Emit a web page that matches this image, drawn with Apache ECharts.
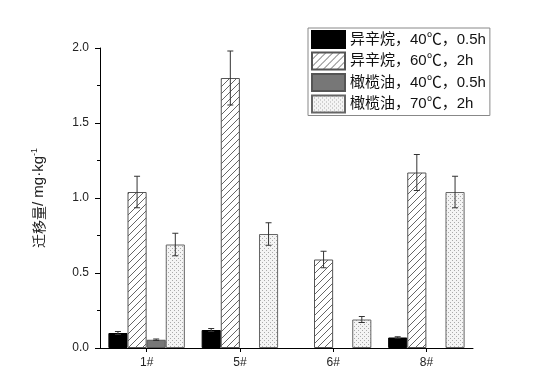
<!DOCTYPE html>
<html><head><meta charset="utf-8">
<script src="https://cdn.jsdelivr.net/npm/echarts@6/dist/echarts.min.js"></script>
<style>html,body{margin:0;padding:0;background:#fff}#c{width:550px;height:389px}</style>
</head><body><div id="c"></div>
<script>
const categories = ['1#', '5#', '6#', '8#'];
const seriesNames = ['异辛烷，40℃，0.5h', '异辛烷，60℃，2h', '橄榄油，40℃，0.5h', '橄榄油，70℃，2h'];
const isooctane40 = [0.10, 0.12, 0, 0.07];
const isooctane40Err = [0.01, 0.01, 0, 0.005];
const isooctane60 = [1.04, 1.80, 0.59, 1.17];
const isooctane60Err = [0.105, 0.18, 0.055, 0.12];
const olive40 = [0.055, 0, 0, 0];
const olive40Err = [0.005, 0, 0, 0];
const olive70 = [0.69, 0.76, 0.19, 1.04];
const olive70Err = [0.075, 0.075, 0.02, 0.105];
const yTicks = [0, 0.5, 1.0, 1.5, 2.0];

function hatchPattern() {
  const c = document.createElement('canvas');
  c.width = 7; c.height = 7;
  const g = c.getContext('2d');
  g.fillStyle = '#fff'; g.fillRect(0, 0, 7, 7);
  g.strokeStyle = '#555'; g.lineWidth = 0.9;
  g.beginPath();
  g.moveTo(-1, 8); g.lineTo(8, -1);
  g.moveTo(-1, 1); g.lineTo(1, -1);
  g.moveTo(6, 8); g.lineTo(8, 6);
  g.stroke();
  return c;
}
function dotPattern() {
  const c = document.createElement('canvas');
  c.width = 4; c.height = 4;
  const g = c.getContext('2d');
  g.fillStyle = '#f4f4f4'; g.fillRect(0, 0, 4, 4);
  g.fillStyle = '#aaa';
  g.fillRect(0, 0, 1, 1); g.fillRect(2, 2, 1, 1);
  return c;
}

const values = [isooctane40, isooctane60, olive40, olive70];
const errs = [isooctane40Err, isooctane60Err, olive40Err, olive70Err];
const styles = [
  { color: '#000', borderColor: '#000', borderWidth: 1 },
  { color: { image: hatchPattern(), repeat: 'repeat' }, borderColor: '#555', borderWidth: 1 },
  { color: '#777', borderColor: '#555', borderWidth: 1 },
  { color: { image: dotPattern(), repeat: 'repeat' }, borderColor: '#666', borderWidth: 1 }
];
const gap = 0.18;

const errData = [];
values.forEach((arr, s) => arr.forEach((v, i) => {
  if (v > 0) errData.push([i, v, errs[s][i], s]);
}));

const series = values.map((arr, s) => ({
  name: seriesNames[s], type: 'bar', data: arr.map(v => v > 0 ? v : '-'),
  barGap: '0%', barCategoryGap: (gap * 100) + '%',
  itemStyle: styles[s], emphasis: { disabled: true }
}));
series.push({
  type: 'custom', data: errData, z: 10, silent: true,
  encode: { x: 0, y: 1 },
  renderItem: function (params, api) {
    const ci = api.value(0), v = api.value(1), e = api.value(2), s = api.value(3);
    const band = api.size([1, 0])[0];
    const bw = band * (1 - gap) / 4;
    const cx = api.coord([ci, v])[0] + (s - 1.5) * bw;
    const yt = api.coord([ci, v + e])[1];
    const yb = api.coord([ci, Math.max(v - e, 0)])[1];
    const cap = 3;
    const st = { stroke: '#333', lineWidth: 1 };
    return { type: 'group', children: [
      { type: 'line', shape: { x1: cx, y1: yt, x2: cx, y2: yb }, style: st },
      { type: 'line', shape: { x1: cx - cap, y1: yt, x2: cx + cap, y2: yt }, style: st },
      { type: 'line', shape: { x1: cx - cap, y1: yb, x2: cx + cap, y2: yb }, style: st }
    ]};
  }
});

const chart = echarts.init(document.getElementById('c'), null, { renderer: 'canvas' });
chart.setOption({
  animation: false,
  backgroundColor: '#fff',
  grid: { left: 100, right: 77, top: 48, bottom: 41 },
  legend: {
    data: seriesNames.map(n => ({ name: n, icon: 'rect' })), orient: 'vertical', left: 308, top: 28,
    itemWidth: 33, itemHeight: 17, itemGap: 2.5,
    borderColor: '#888', borderWidth: 1, padding: [2, 4, 2, 3],
    textStyle: { fontSize: 15, lineHeight: 17, color: '#111', fontFamily: '"Liberation Sans","Noto Sans CJK SC",sans-serif' },
    selectedMode: false
  },
  xAxis: {
    type: 'category', data: categories,
    axisLine: { lineStyle: { color: '#000', width: 1 } },
    axisTick: { show: true, alignWithLabel: true, length: 4, lineStyle: { color: '#000' } },
    axisLabel: { fontSize: 12, color: '#222', margin: 9, fontFamily: 'Liberation Sans, Arial, sans-serif' }
  },
  yAxis: {
    type: 'value', min: 0, max: 2.0, interval: 0.5,
    name: '{a|迁移量}{b|/ mg·kg}{s|-1}', nameLocation: 'middle', nameRotate: 90, nameGap: 52,
    nameTextStyle: {
      rich: {
        a: { fontSize: 14, color: '#222', fontFamily: '"Noto Sans CJK SC",sans-serif' },
        b: { fontSize: 15, color: '#222', fontFamily: '"Liberation Sans",Arial,sans-serif' },
        s: { fontSize: 9, color: '#222', verticalAlign: 'top', padding: [0, 0, 9, 0], fontFamily: '"Liberation Sans",Arial,sans-serif' }
      }
    },
    splitLine: { show: false },
    axisLine: { show: true, lineStyle: { color: '#000', width: 1 } },
    axisTick: { show: true, inside: false, length: 5, lineStyle: { color: '#000' } },
    minorTick: { show: true, splitNumber: 2, length: 3, lineStyle: { color: '#000' } },
    axisLabel: {
      fontSize: 12, color: '#222', margin: 11, fontFamily: 'Liberation Sans, Arial, sans-serif',
      formatter: v => yTicks.includes(v) ? v.toFixed(1) : ''
    }
  },
  series: series
});
</script></body></html>
